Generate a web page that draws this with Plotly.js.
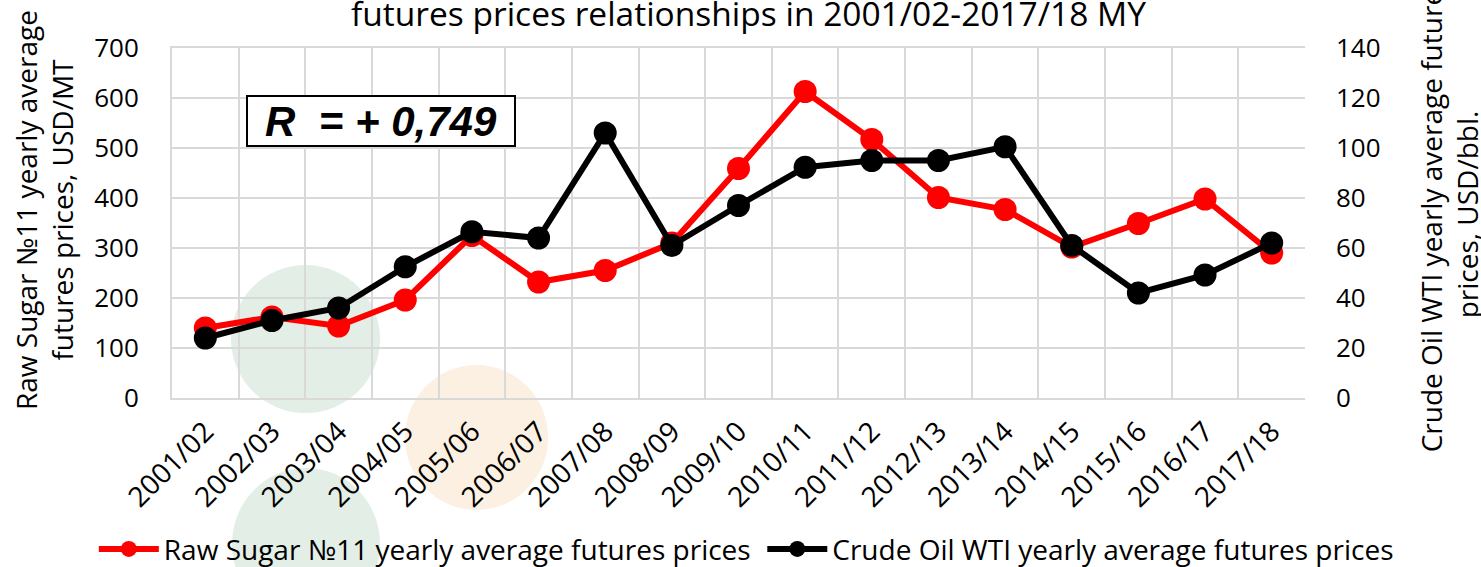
<!DOCTYPE html>
<html>
<head>
<meta charset="utf-8">
<script src="https://cdn.plot.ly/plotly-3.0.1.min.js"></script>
<style>html,body{margin:0;padding:0;background:#fff;}#chart{width:1481px;height:567px;}</style>
</head>
<body>
<div id="chart"></div>
<script>
const seasons = ["2001/02","2002/03","2003/04","2004/05","2005/06","2006/07","2007/08","2008/09","2009/10","2010/11","2011/12","2012/13","2013/14","2014/15","2015/16","2016/17","2017/18"];
const sugarPrices = [140, 162, 144, 196, 325, 232, 255, 310, 459, 613, 517, 401, 377, 302, 349, 398, 290];
const oilPrices = [24, 31, 36, 52.5, 66.5, 64, 106, 61, 77, 92.3, 95, 95, 100.5, 61, 42, 49.2, 62];
const sugarName = "Raw Sugar №11 yearly average futures prices";
const oilName = "Crude Oil WTI yearly average futures prices";
const titleText = "futures prices relationships in 2001/02-2017/18 MY";
const leftTitle = "Raw Sugar №11 yearly average<br>futures prices, USD/MT";
const rightTitle = "Crude Oil WTI yearly average futures<br>prices, USD/bbl.";
const rText = "R\u00a0\u00a0= + 0,749";

const FONT = "'Open Sans', sans-serif";
const GRID = "#d9d9d9";

const traces = [
  {x: seasons, y: sugarPrices, name: sugarName, type: "scatter", mode: "lines+markers",
   line: {color: "#ff0000", width: 6}, marker: {color: "#ff0000", size: 23}, yaxis: "y", legend: "legend"},
  {x: seasons, y: oilPrices, name: oilName, type: "scatter", mode: "lines+markers",
   line: {color: "#000000", width: 6}, marker: {color: "#000000", size: 23}, yaxis: "y2", legend: "legend2"}
];

const legendBase = {orientation: "h", xanchor: "left", y: -0.432, yanchor: "middle",
  font: {size: 28, family: FONT, color: "#000"}, itemwidth: 60, bgcolor: "rgba(0,0,0,0)"};

const layout = {
  width: 1481, height: 567,
  margin: {l: 172, r: 176, t: 48, b: 169, autoexpand: false},
  paper_bgcolor: "#ffffff", plot_bgcolor: "rgba(0,0,0,0)",
  font: {family: FONT, color: "#000", size: 25},
  showlegend: true,
  legend: Object.assign({}, legendBase, {x: -0.069}),
  legend2: Object.assign({}, legendBase, {x: 0.521}),
  xaxis: {type: "category", tickson: "boundaries", showgrid: true, gridcolor: GRID, gridwidth: 2,
          showline: true, linecolor: GRID, linewidth: 2, mirror: true, ticks: "", tickangle: -45,
          automargin: false, ticklabelstandoff: 4,
          tickfont: {size: 28, family: FONT, color: "#000"}, range: [-0.5, 16.5], zeroline: false},
  yaxis: {range: [0, 700], dtick: 100, showgrid: true, gridcolor: GRID, gridwidth: 2, automargin: false,
          showline: true, linecolor: GRID, linewidth: 2, zeroline: false, ticks: "",
          ticklabelstandoff: 26, tickfont: {size: 26, family: FONT, color: "#000"}},
  yaxis2: {range: [0, 140], dtick: 20, overlaying: "y", side: "right", showgrid: false, automargin: false,
           zeroline: false, showline: false, ticks: "", ticklabelstandoff: 30,
           tickfont: {size: 26, family: FONT, color: "#000"}},
  shapes: [
    {type: "circle", xref: "paper", yref: "paper", x0: 0.0521, x1: 0.1836, y0: -0.043, y1: 0.38,
     fillcolor: "rgba(200,222,206,0.5)", line: {width: 0}, layer: "below"},
    {type: "circle", xref: "paper", yref: "paper", x0: 0.2056, x1: 0.3319, y0: -0.32, y1: 0.094,
     fillcolor: "rgba(248,226,196,0.5)", line: {width: 0}, layer: "below"},
    {type: "circle", xref: "paper", yref: "paper", x0: 0.053, x1: 0.1836, y0: -0.634, y1: -0.2,
     fillcolor: "rgba(200,222,206,0.5)", line: {width: 0}, layer: "below"}
  ],
  annotations: [
    {text: titleText, xref: "paper", yref: "paper", x: 0.509, y: 1.1, xanchor: "center", yanchor: "middle",
     showarrow: false, font: {size: 33.5, family: FONT, color: "#000"}},
    {text: leftTitle, xref: "paper", yref: "paper", x: -0.113, y: 0.537, xanchor: "center", yanchor: "middle",
     textangle: -90, showarrow: false, font: {size: 28, family: FONT, color: "#000"}},
    {text: rightTitle, xref: "paper", yref: "paper", x: 1.1266, y: 0.526, xanchor: "center", yanchor: "middle",
     textangle: -90, showarrow: false, font: {size: 28, family: FONT, color: "#000"}},
    {text: "<b><i>" + rText + "</i></b>", xref: "paper", yref: "paper", x: 0.1849, y: 0.791,
     xanchor: "center", yanchor: "middle", showarrow: false, bordercolor: "#000", borderwidth: 2,
     borderpad: 1, bgcolor: "#fff", width: 264, height: 46,
     font: {size: 42, family: "'Liberation Sans', Arial, sans-serif", color: "#000"}}
  ]
};

Plotly.newPlot("chart", traces, layout, {displayModeBar: false, staticPlot: true});
</script>
</body>
</html>
